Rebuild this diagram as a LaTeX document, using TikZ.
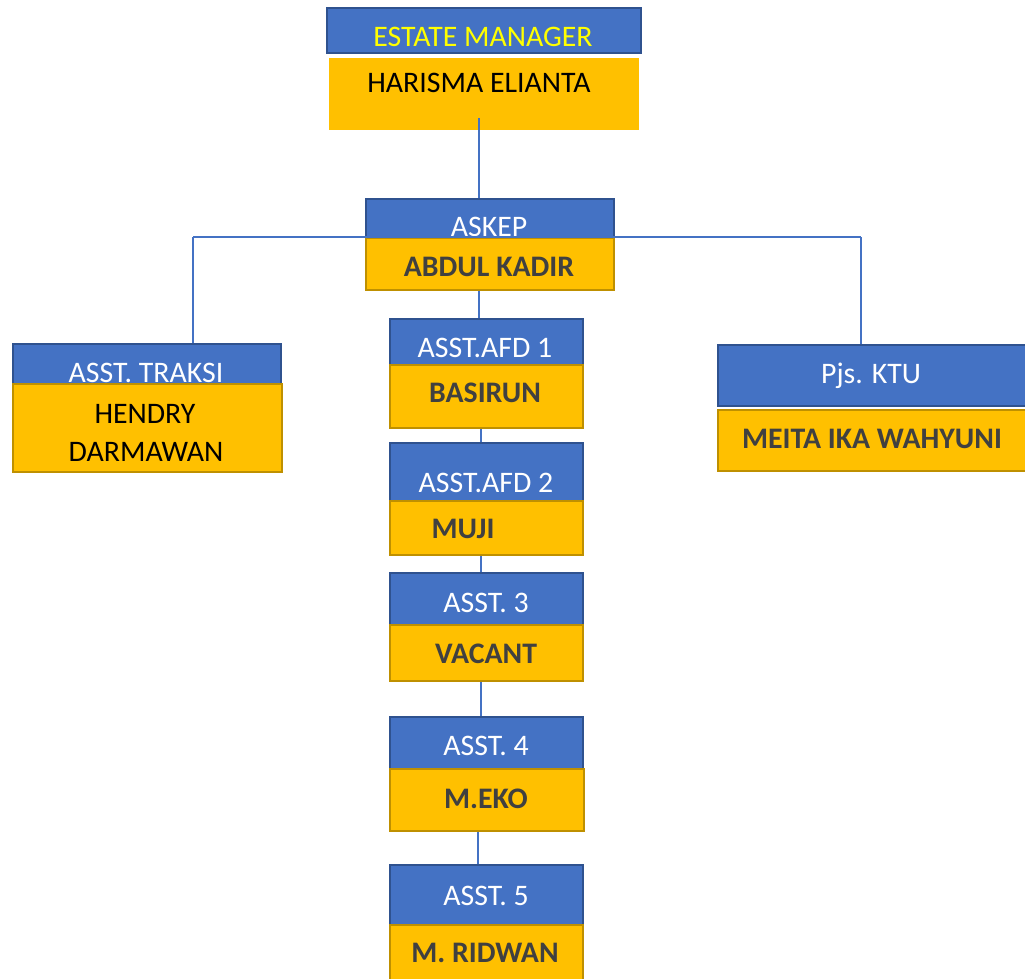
\documentclass[tikz,border=0pt]{standalone}
\usepackage{fontspec}
\setmainfont{Carlito}
\definecolor{blueF}{HTML}{4472C4}
\definecolor{blueD}{HTML}{2F528F}
\definecolor{orF}{HTML}{FFC000}
\definecolor{orD}{HTML}{BF9000}
\definecolor{lineC}{HTML}{4472C4}
\definecolor{nameC}{HTML}{404040}
\definecolor{yelT}{HTML}{FFFF00}
\begin{document}
\begin{tikzpicture}[x=1pt,y=-1pt,
  bbox/.style={rectangle, fill=blueF, draw=blueD, line width=1.6pt, inner sep=0pt, anchor=north west},
  obox/.style={rectangle, fill=orF, draw=orD, line width=1.6pt, inner sep=0pt, anchor=north west},
  wtxt/.style={text=white, inner sep=0pt, anchor=base, font=\fontsize{29.8}{34}\selectfont},
  ntxt/.style={text=nameC, inner sep=0pt, anchor=base, font=\bfseries\fontsize{29.8}{34}\selectfont},
  ktxt/.style={text=black, inner sep=0pt, anchor=base, font=\fontsize{29.8}{34}\selectfont},
  conn/.style={draw=lineC, line width=1.2pt}]
\useasboundingbox (0,0) rectangle (1025,979);
% Estate manager
\node[bbox, minimum width=314pt, minimum height=45pt] (emB) at (326,7) {};
\node[wtxt, text=yelT] (emT) at (483,47) {ESTATE MANAGER};
\node[obox, draw=none, minimum width=310pt, minimum height=72pt] (hmO) at (328,57) {};
\node[ktxt] (hmT) at (479,93) {HARISMA ELIANTA};
% Askep
\node[bbox, minimum width=248pt, minimum height=52pt] (askB) at (365,198) {};
\node[wtxt] (askT) at (489,236) {ASKEP};
\node[obox, minimum width=248pt, minimum height=52pt] (askO) at (365,237) {};
\node[ntxt] (askN) at (489,276) {ABDUL KADIR};
% Traksi
\node[bbox, minimum width=268pt, minimum height=52pt] (trB) at (12,343) {};
\node[wtxt] (trT) at (146,382) {ASST. TRAKSI};
\node[obox, minimum width=269pt, minimum height=88pt] (trO) at (12,383) {};
\node[ktxt] (trN1) at (145,423) {HENDRY};
\node[ktxt] (trN2) at (146,461) {DARMAWAN};
% KTU
\node[bbox, minimum width=318pt, minimum height=61pt] (ktuB) at (717,344) {};
\node[wtxt] (ktuT) at (871,383) {Pjs. KTU};
\node[obox, minimum width=318pt, minimum height=61pt] (ktuO) at (717,409) {};
\node[ntxt] (ktuN) at (872,448) {MEITA IKA WAHYUNI};
% AFD 1
\node[bbox, minimum width=193pt, minimum height=52pt] (a1B) at (389,318) {};
\node[wtxt] (a1T) at (485,357) {ASST.AFD 1};
\node[obox, minimum width=193pt, minimum height=63pt] (a1O) at (389,364) {};
\node[ntxt] (a1N) at (485,402) {BASIRUN};
% AFD 2
\node[bbox, minimum width=193pt, minimum height=63pt] (a2B) at (389,442) {};
\node[wtxt] (a2T) at (486,492) {ASST.AFD 2};
\node[obox, minimum width=193pt, minimum height=54pt] (a2O) at (389,500) {};
\node[ntxt] (a2N) at (463,538) {MUJI};
% Asst 3
\node[bbox, minimum width=193pt, minimum height=56pt] (a3B) at (389,572) {};
\node[wtxt] (a3T) at (486,612) {ASST. 3};
\node[obox, minimum width=193pt, minimum height=56pt] (a3O) at (389,624) {};
\node[ntxt] (a3N) at (486,663) {VACANT};
% Asst 4
\node[bbox, minimum width=193pt, minimum height=54pt] (a4B) at (389,716) {};
\node[wtxt] (a4T) at (486,755) {ASST. 4};
\node[obox, minimum width=194pt, minimum height=62pt] (a4O) at (389,768) {};
\node[ntxt] (a4N) at (486,808) {M.EKO};
% Asst 5
\node[bbox, minimum width=193pt, minimum height=62pt] (a5B) at (389,864) {};
\node[wtxt] (a5T) at (486,905) {ASST. 5};
\node[obox, minimum width=193pt, minimum height=66pt] (a5O) at (389,924) {};
\node[ntxt] (a5N) at (485,962) {M. RIDWAN};
% connectors
\coordinate (cTop) at (479,118);
\coordinate (hL) at (193,237);
\coordinate (hR) at (861,237);
\coordinate (xA) at (479,0);
\coordinate (xB) at (481,0);
\coordinate (xC) at (478,0);
\draw[conn] (cTop) -- (cTop |- askB.north);
\draw[conn] (hL) -- (hR);
\draw[conn] (hL) -- (hL |- trB.north);
\draw[conn] (hR) -- (hR |- ktuB.north);
\draw[conn] (askO.south -| xA) -- (a1B.north -| xA);
\draw[conn] (a1O.south -| xB) -- (a2B.north -| xB);
\draw[conn] (a2O.south -| xB) -- (a3B.north -| xB);
\draw[conn] (a3O.south -| xB) -- (a4B.north -| xB);
\draw[conn] (a4O.south -| xC) -- (a5B.north -| xC);
\end{tikzpicture}
\end{document}
